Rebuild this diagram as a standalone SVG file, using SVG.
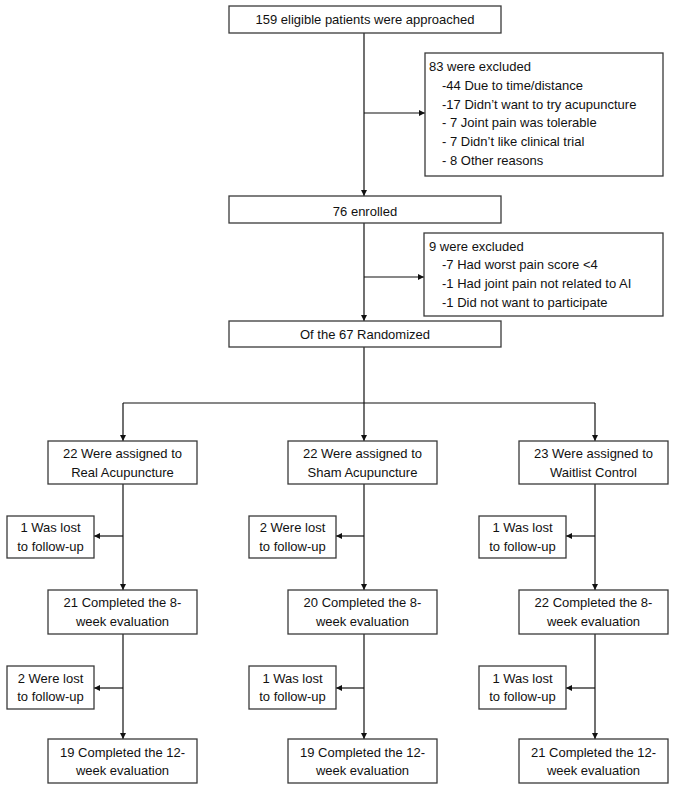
<svg xmlns="http://www.w3.org/2000/svg" width="675" height="790" viewBox="0 0 675 790">
<style>
.b{fill:#fff;stroke:#3a3a3a;stroke-width:1.3}
.t{font-family:"Liberation Sans",Arial,sans-serif;font-size:13px;fill:#111}
.c{text-anchor:middle}
.l{fill:none;stroke:#111;stroke-width:1.2}
</style>
<defs>
<marker id="a" viewBox="0 0 10 10" refX="10" refY="5" markerWidth="6" markerHeight="6" orient="auto" markerUnits="userSpaceOnUse">
<path d="M0,0L10,5L0,10z" fill="#111"/>
</marker>
</defs>
<rect width="675" height="790" fill="#fff"/>
<g id="connectors">
<line class="l" x1="364" y1="33" x2="364" y2="196" marker-end="url(#a)"/>
<line class="l" x1="364" y1="113" x2="425" y2="113" marker-end="url(#a)"/>
<line class="l" x1="364" y1="223" x2="364" y2="321" marker-end="url(#a)"/>
<line class="l" x1="364" y1="277" x2="424" y2="277" marker-end="url(#a)"/>
<polyline class="l" points="364,347 364,403"/>
<line class="l" x1="123" y1="403" x2="595" y2="403"/>
<line class="l" x1="123" y1="403" x2="123" y2="441" marker-end="url(#a)"/>
<line class="l" x1="364" y1="403" x2="364" y2="441" marker-end="url(#a)"/>
<line class="l" x1="595" y1="403" x2="595" y2="441" marker-end="url(#a)"/>
<line class="l" x1="123" y1="484" x2="123" y2="590" marker-end="url(#a)"/>
<line class="l" x1="364" y1="484" x2="364" y2="590" marker-end="url(#a)"/>
<line class="l" x1="595" y1="484" x2="595" y2="590" marker-end="url(#a)"/>
<line class="l" x1="123" y1="536" x2="94" y2="536" marker-end="url(#a)"/>
<line class="l" x1="364" y1="536" x2="336" y2="536" marker-end="url(#a)"/>
<line class="l" x1="595" y1="536" x2="566" y2="536" marker-end="url(#a)"/>
<line class="l" x1="123" y1="634" x2="123" y2="739" marker-end="url(#a)"/>
<line class="l" x1="364" y1="634" x2="364" y2="739" marker-end="url(#a)"/>
<line class="l" x1="595" y1="634" x2="595" y2="739" marker-end="url(#a)"/>
<line class="l" x1="123" y1="688" x2="94" y2="688" marker-end="url(#a)"/>
<line class="l" x1="364" y1="688" x2="336" y2="688" marker-end="url(#a)"/>
<line class="l" x1="595" y1="688" x2="566" y2="688" marker-end="url(#a)"/>
</g>
<g id="approached"><rect class="b" x="229" y="6" width="272" height="27"/><text class="t c" x="365" y="24">159 eligible patients were approached</text></g>
<g id="excluded1"><rect class="b" x="425" y="53" width="238" height="123"/>
<text class="t" x="429" y="71">83 were excluded</text>
<text class="t" x="442" y="90">-44 Due to time/distance</text>
<text class="t" x="442" y="109">-17 Didn’t want to try acupuncture</text>
<text class="t" x="442" y="127">- 7 Joint pain was tolerable</text>
<text class="t" x="442" y="146">- 7 Didn’t like clinical trial</text>
<text class="t" x="442" y="165">- 8 Other reasons</text>
</g>
<g id="enrolled"><rect class="b" x="229" y="196" width="272" height="27"/><text class="t c" x="365" y="216">76 enrolled</text></g>
<g id="excluded2"><rect class="b" x="424" y="233" width="239" height="83"/>
<text class="t" x="429" y="251">9 were excluded</text>
<text class="t" x="442" y="269">-7 Had worst pain score &lt;4</text>
<text class="t" x="442" y="288">-1 Had joint pain not related to AI</text>
<text class="t" x="442" y="307">-1 Did not want to participate</text>
</g>
<g id="randomized"><rect class="b" x="229" y="321" width="272" height="26"/><text class="t c" x="365" y="339">Of the 67 Randomized</text></g>
<g id="real"><rect class="b" x="48" y="441" width="149" height="43"/><text class="t c" x="122.5" y="458">22 Were assigned to</text><text class="t c" x="122.5" y="477">Real Acupuncture</text></g>
<g id="sham"><rect class="b" x="288" y="441" width="149" height="43"/><text class="t c" x="362.5" y="458">22 Were assigned to</text><text class="t c" x="362.5" y="477">Sham Acupuncture</text></g>
<g id="waitlist"><rect class="b" x="519" y="441" width="149" height="43"/><text class="t c" x="593.5" y="458">23 Were assigned to</text><text class="t c" x="593.5" y="477">Waitlist Control</text></g>
<g id="lost1a"><rect class="b" x="7" y="516" width="87" height="42"/><text class="t c" x="50.5" y="532">1 Was lost</text><text class="t c" x="50.5" y="551">to follow-up</text></g>
<g id="lost1b"><rect class="b" x="249" y="516" width="87" height="42"/><text class="t c" x="292.5" y="532">2 Were lost</text><text class="t c" x="292.5" y="551">to follow-up</text></g>
<g id="lost1c"><rect class="b" x="479" y="516" width="87" height="42"/><text class="t c" x="522.5" y="532">1 Was lost</text><text class="t c" x="522.5" y="551">to follow-up</text></g>
<g id="w8a"><rect class="b" x="48" y="590" width="149" height="44"/><text class="t c" x="122.5" y="607">21 Completed the 8-</text><text class="t c" x="122.5" y="626">week evaluation</text></g>
<g id="w8b"><rect class="b" x="288" y="590" width="149" height="44"/><text class="t c" x="362.5" y="607">20 Completed the 8-</text><text class="t c" x="362.5" y="626">week evaluation</text></g>
<g id="w8c"><rect class="b" x="519" y="590" width="149" height="44"/><text class="t c" x="593.5" y="607">22 Completed the 8-</text><text class="t c" x="593.5" y="626">week evaluation</text></g>
<g id="lost2a"><rect class="b" x="7" y="666" width="87" height="43"/><text class="t c" x="50.5" y="683">2 Were lost</text><text class="t c" x="50.5" y="701">to follow-up</text></g>
<g id="lost2b"><rect class="b" x="249" y="666" width="87" height="43"/><text class="t c" x="292.5" y="683">1 Was lost</text><text class="t c" x="292.5" y="701">to follow-up</text></g>
<g id="lost2c"><rect class="b" x="479" y="666" width="87" height="43"/><text class="t c" x="522.5" y="683">1 Was lost</text><text class="t c" x="522.5" y="701">to follow-up</text></g>
<g id="w12a"><rect class="b" x="48" y="739" width="149" height="44"/><text class="t c" x="122.5" y="757">19 Completed the 12-</text><text class="t c" x="122.5" y="775">week evaluation</text></g>
<g id="w12b"><rect class="b" x="288" y="739" width="149" height="44"/><text class="t c" x="362.5" y="757">19 Completed the 12-</text><text class="t c" x="362.5" y="775">week evaluation</text></g>
<g id="w12c"><rect class="b" x="519" y="739" width="149" height="44"/><text class="t c" x="593.5" y="757">21 Completed the 12-</text><text class="t c" x="593.5" y="775">week evaluation</text></g>
</svg>
